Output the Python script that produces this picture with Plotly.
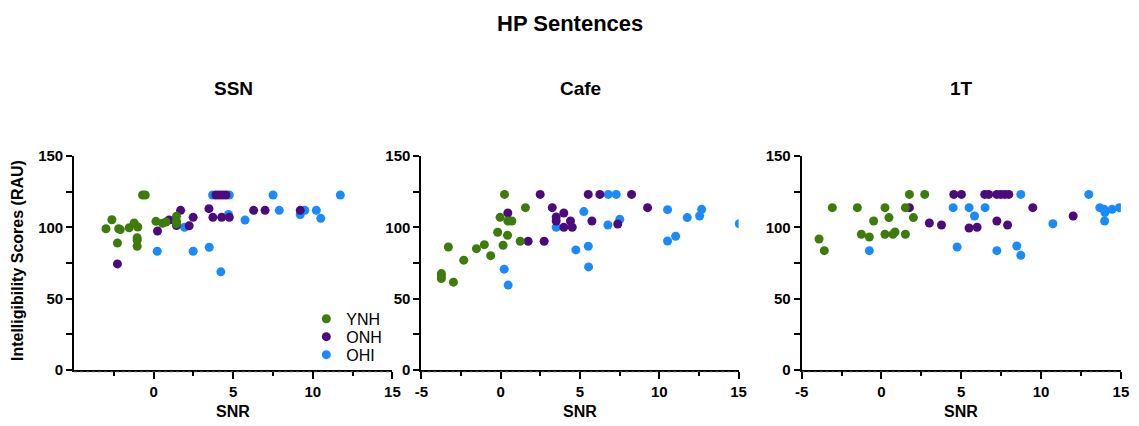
import plotly.graph_objects as go

# ---- data: SNR (dB) and intelligibility (RAU) per listener group, per masker ----
groups = ["YNH", "ONH", "OHI"]
colors = {"YNH": "#3d7b0b", "ONH": "#4b0b7c", "OHI": "#1a8bff"}
panels = ["SSN", "Cafe", "1T"]

ssn_ynh_x = [-3.0, -2.63, -2.28, -2.1, -2.2, -1.54, -1.23, -1.0, -1.04, -1.04, -1.04,
             -0.7, -0.53, 0.14, 0.55, 0.77, 1.43, 1.43, 1.43]
ssn_ynh_y = [99.0, 105.3, 89.0, 98.4, 99.0, 99.7, 103.0, 100.2, 92.7, 90.9, 86.7,
             122.7, 122.7, 104.2, 102.8, 103.7, 107.7, 104.4, 102.5]
ssn_onh_x = [-2.28, 0.24, 0.97, 1.43, 1.69, 2.23, 2.48, 3.47, 3.72, 3.91, 4.12, 4.33,
             4.54, 4.27, 4.75, 6.28, 7.0, 9.21]
ssn_onh_y = [74.3, 97.4, 105.1, 101.2, 111.9, 101.0, 107.0, 113.1, 107.0, 122.7, 122.7,
             122.7, 122.7, 107.0, 107.0, 111.9, 111.9, 111.9]
ssn_ohi_x = [0.22, 1.94, 2.48, 3.49, 4.22, 3.7, 4.75, 4.7, 5.74, 7.5, 7.89, 9.21, 9.5,
             10.22, 10.5, 11.73]
ssn_ohi_y = [83.2, 100.0, 83.2, 86.0, 68.7, 122.7, 122.7, 109.0, 105.1, 122.7, 111.9,
             108.9, 111.9, 111.9, 106.3, 122.7]

cafe_ynh_x = [-3.74, -3.74, -3.74, -3.3, -2.98, -2.33, -1.53, -1.03, -0.63, -0.19, -0.04,
              0.15, 0.24, 0.43, 0.45, 0.7, 1.23, 1.56]
cafe_ynh_y = [67.5, 65.9, 64.0, 86.2, 61.5, 76.9, 85.0, 87.8, 80.1, 96.5, 107.0,
              87.4, 123.1, 94.4, 104.4, 104.4, 90.2, 113.8]
cafe_onh_x = [0.45, 1.73, 2.49, 2.74, 3.25, 3.5, 3.5, 3.98, 3.98, 4.4, 4.51, 5.52, 5.75,
              6.25, 7.38, 8.25, 9.26]
cafe_onh_y = [110.0, 90.2, 123.1, 90.2, 113.8, 107.2, 104.4, 110.0, 100.0, 104.4, 100.0,
              123.1, 104.4, 123.1, 102.3, 123.1, 113.8]
cafe_ohi_x = [0.22, 0.47, 3.5, 4.74, 5.24, 5.52, 5.54, 6.76, 6.78, 7.28, 7.51, 10.52,
              10.52, 11.03, 11.76, 12.54, 12.67, 15.04]
cafe_ohi_y = [70.6, 59.4, 100.0, 84.1, 111.0, 86.7, 72.2, 101.6, 123.1, 123.1, 105.6,
              112.4, 90.4, 93.7, 106.8, 107.9, 112.6, 102.5]

t1_ynh_x = [-3.91, -3.58, -3.08, -1.51, -1.26, -0.76, -0.49, 0.22, 0.22, 0.47, 0.72,
            0.85, 1.5, 1.5, 1.75, 2.0, 2.71]
t1_ynh_y = [91.8, 83.6, 113.8, 113.8, 95.1, 93.2, 104.4, 113.8, 95.1, 106.8, 95.1,
            96.7, 113.8, 95.1, 123.1, 106.8, 123.1]
t1_onh_x = [1.75, 3.0, 3.76, 4.53, 5.01, 5.49, 5.99, 6.47, 6.72, 7.23, 7.23, 7.48, 7.73,
            7.98, 7.9, 9.48, 12.01]
t1_onh_y = [113.8, 103.0, 101.6, 123.1, 123.1, 99.5, 100.0, 123.1, 123.1, 104.4, 123.1,
            123.1, 123.1, 123.1, 101.6, 113.8, 107.9]
t1_ohi_x = [-0.76, 4.49, 4.74, 5.49, 5.83, 6.49, 7.23, 8.48, 8.73, 8.73, 10.74, 12.99,
            13.68, 13.95, 14.0, 13.98, 14.45, 14.9]
t1_ohi_y = [83.6, 113.8, 86.2, 113.8, 107.9, 113.8, 83.6, 86.9, 80.4, 123.1, 102.5, 123.1,
            113.8, 112.6, 110.3, 104.4, 112.6, 113.8]

data = {
    "SSN": {"YNH": (ssn_ynh_x, ssn_ynh_y), "ONH": (ssn_onh_x, ssn_onh_y), "OHI": (ssn_ohi_x, ssn_ohi_y)},
    "Cafe": {"YNH": (cafe_ynh_x, cafe_ynh_y), "ONH": (cafe_onh_x, cafe_onh_y), "OHI": (cafe_ohi_x, cafe_ohi_y)},
    "1T": {"YNH": (t1_ynh_x, t1_ynh_y), "ONH": (t1_onh_x, t1_onh_y), "OHI": (t1_ohi_x, t1_ohi_y)},
}

x_ticks_first = [0, 5, 10, 15]
x_ticks = [-5, 0, 5, 10, 15]
x_tick_text_first = ["0", "5", "10", "15"]
x_tick_text = ["-5", "0", "5", "10", "15"]
y_ticks = [0, 50, 100, 150]

# ---- layout geometry ----
W, H = 1139, 426
BODY = 8                                   # default body margin around the figure div
SX, SY = W / (W + 2 * BODY), H / (H + 17)  # page-to-view scale
panel_px = [(75, 393), (422, 739), (802, 1121)]
y_top_px, y_bot_px = 155, 369


def px_x(px):
    return (px / SX - BODY) / W


def px_y(py):
    return 1 - (py / SY - BODY) / H


FONT = "Liberation Sans, Arial, sans-serif"

# one small legend box per group, stacked in the SSN panel
legend_keys = {"YNH": "legend", "ONH": "legend2", "OHI": "legend3"}
legend_rows_px = {"YNH": 318, "ONH": 336, "OHI": 354}

fig = go.Figure()

for i, name in enumerate(panels):
    ax = "" if i == 0 else str(i + 1)
    for g in ["OHI", "ONH", "YNH"]:
        xs, ys = data[name][g]
        fig.add_trace(go.Scatter(
            x=xs, y=ys, mode="markers", name=g,
            marker=dict(color=colors[g], size=9, line=dict(width=0)),
            xaxis="x" + ax, yaxis="y" + ax,
            showlegend=(i == 0), legend=legend_keys[g],
        ))

layout = dict(
    width=W, height=H,
    margin=dict(l=0, r=0, t=0, b=0),
    paper_bgcolor="white", plot_bgcolor="white",
    font=dict(family=FONT, color="black"),
    showlegend=True,
)
for g in groups:
    layout[legend_keys[g]] = dict(
        x=px_x(307), y=px_y(legend_rows_px[g]), xanchor="left", yanchor="middle",
        bgcolor="rgba(0,0,0,0)", font=dict(size=16, family=FONT), itemwidth=30,
    )

annotations = [dict(text="<b>HP Sentences</b>", x=px_x(570), y=px_y(22), xref="paper", yref="paper",
                    showarrow=False, font=dict(size=22, family=FONT), xanchor="center", yanchor="middle"),
               dict(text="<b>Intelligibility Scores (RAU)</b>", x=px_x(19), y=px_y(260),
                    xref="paper", yref="paper", showarrow=False, textangle=-90,
                    font=dict(size=16, family=FONT), xanchor="center", yanchor="middle")]
shapes = []

for i, name in enumerate(panels):
    ax = "" if i == 0 else str(i + 1)
    x0, x1 = panel_px[i]
    cx = px_x((x0 + x1) / 2)
    layout["xaxis" + ax] = dict(
        domain=[px_x(x0), px_x(x1)], range=[-5, 15], anchor="y" + ax,
        showgrid=False, zeroline=False, showline=True, linecolor="black", linewidth=2,
        ticks="outside", ticklen=7, tickwidth=1.5, tickcolor="black",
        tickvals=x_ticks_first if i == 0 else x_ticks,
        ticktext=x_tick_text_first if i == 0 else x_tick_text,
        tickfont=dict(size=15, family=FONT, weight="bold"),
        minor=dict(tickvals=[-2.5, 2.5, 7.5, 12.5], ticks="outside", ticklen=4,
                   tickwidth=1.5, tickcolor="black"),
    )
    layout["yaxis" + ax] = dict(
        domain=[px_y(y_bot_px), px_y(y_top_px)], range=[0, 150], anchor="x" + ax,
        showgrid=False, zeroline=False, showline=True, linecolor="black", linewidth=2,
        ticks="outside", ticklen=6, tickwidth=1.5, tickcolor="black",
        tickvals=y_ticks, tickfont=dict(size=15, family=FONT, weight="bold"),
        minor=dict(tickvals=[25, 75, 125], ticks="outside", ticklen=6,
                   tickwidth=1.5, tickcolor="black"),
    )
    annotations.append(dict(text=f"<b>{name}</b>", x=cx, y=px_y(87), xref="paper", yref="paper",
                            showarrow=False, font=dict(size=19, family=FONT),
                            xanchor="center", yanchor="middle"))
    annotations.append(dict(text="<b>SNR</b>", x=cx, y=px_y(411), xref="paper", yref="paper",
                            showarrow=False, font=dict(size=16, family=FONT),
                            xanchor="center", yanchor="middle"))
    # dotted rule running just under the baseline
    shapes.append(dict(type="line", xref="paper", yref="paper",
                       x0=px_x(x0), x1=px_x(x1), y0=px_y(371), y1=px_y(371),
                       line=dict(color="#555555", width=1, dash="dot")))

layout["annotations"] = annotations
layout["shapes"] = shapes
fig.update_layout(**layout)

fig.write_html("out.html")
